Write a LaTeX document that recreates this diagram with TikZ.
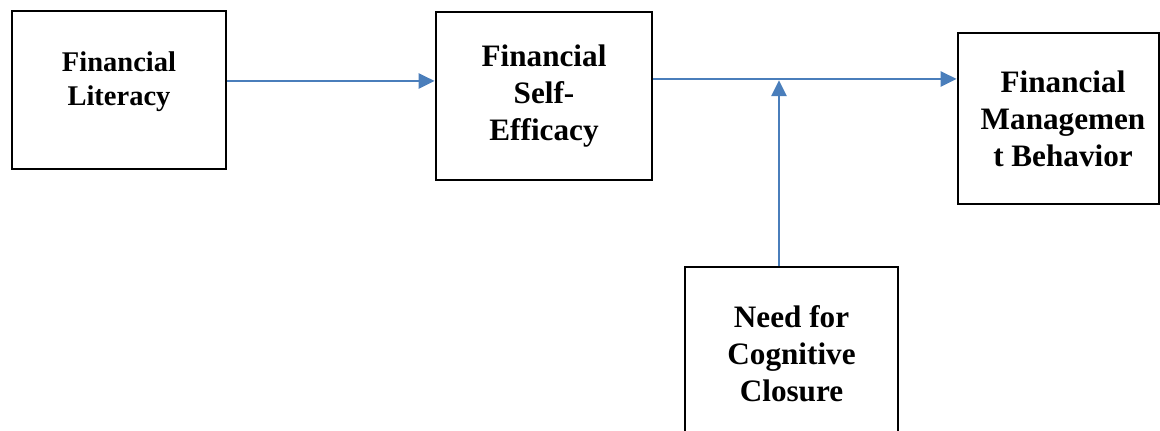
\documentclass[tikz,border=0pt]{standalone}
\usepackage{fontspec}
\setmainfont{Liberation Serif}
\usepackage{tikz}
\usetikzlibrary{arrows.meta}
\usetikzlibrary{positioning}
\definecolor{linkblue}{RGB}{74,126,187}
\tikzset{box/.style = {draw, line width = 1.35pt, rectangle, inner sep = 0,
                       align = center, font = \bfseries\fontsize{15.6}{18.5}\selectfont}}
\tikzset{lbl/.style = {inner sep = 0, align = center,
                       font = \bfseries\fontsize{14.25}{17}\selectfont}}
\tikzset{link/.style = {draw = linkblue, line width = 1.35pt,
                        -{Triangle[length = 8pt, width = 7.5pt]}}}

\begin{document}
\begin{tikzpicture}[x = 0.5pt, y = -0.5pt]
      \useasboundingbox (0, 0) rectangle (1160, 431);
      \clip (0, 0) rectangle (1160, 431);

      \node [box, minimum width = 107pt, minimum height = 79pt] (lit) at (119, 90) {};
      \node [lbl] (littext) at (119, 82) {Financial\\Literacy};
      \node [box, minimum width = 108pt, minimum height = 84pt] (eff) at (544, 96)
            {Financial\\Self-\\Efficacy};
      \node [box, minimum width = 100.5pt, minimum height = 85.5pt] (fmb) at (1058.5, 118.5) {};
      \node [lbl, font = \bfseries\fontsize{15.6}{18.5}\selectfont] (fmbtext) at (1063, 119)
            {Financial\\Managemen\\t Behavior};
      \node [box, minimum width = 106.5pt, minimum height = 87pt] (ncc) at (791.5, 354)
            {Need for\\Cognitive\\Closure};

      \coordinate (litout) at ([yshift = 4.5pt] lit.east);
      \coordinate (effout) at ([yshift = 8.5pt] eff.east);
      \coordinate (nccout) at ([xshift = -6.25pt] ncc.north);

      \draw [link] (litout) -- (litout -| eff.west);
      \draw [link] (effout) -- (effout -| fmb.west);
      \draw [link, shorten > = 0.6pt] (nccout) -- (nccout |- effout);
\end{tikzpicture}
\end{document}
